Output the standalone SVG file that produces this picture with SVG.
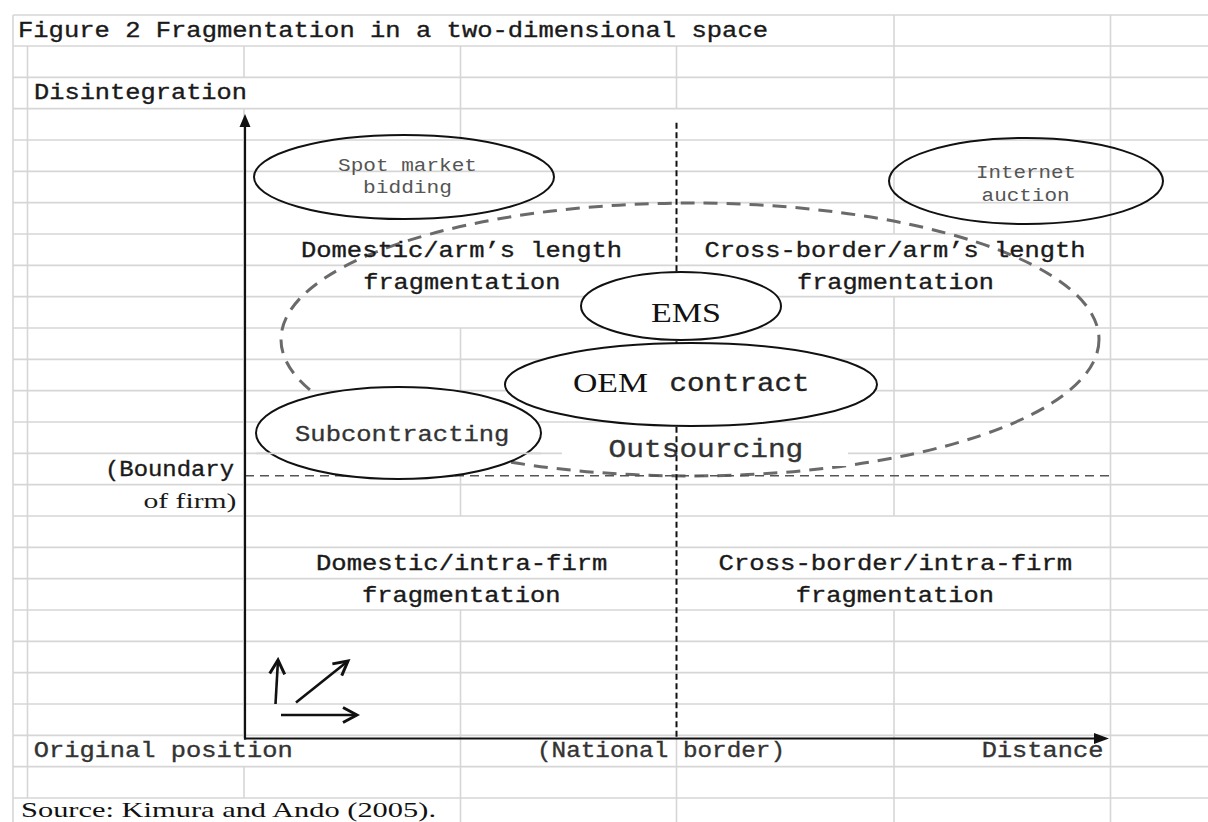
<svg xmlns="http://www.w3.org/2000/svg" width="1208" height="822" viewBox="0 0 1208 822">
  <style>
    .grid line { stroke: #d6d6d6; stroke-width: 1.6; }
    .mono { font-family: "Liberation Mono", "DejaVu Sans Mono", monospace; }
    .serif { font-family: "Liberation Serif", "Times New Roman", serif; }
    .lbl { fill: #1a1a1a; font-size: 22px; stroke: #1a1a1a; stroke-width: 0.35; }
    .soft { fill: #555555; font-size: 19px; }
    .mid { fill: #333333; stroke: #333333; }
    .node { stroke: #111111; stroke-width: 2; }
    .axis { stroke: #111111; stroke-width: 2.2; fill: none; }
    .dir { stroke: #111111; stroke-width: 2.6; }
  </style>
  <defs>
    <marker id="chev" viewBox="0 0 18 18" refX="15" refY="9" markerWidth="18" markerHeight="18" markerUnits="userSpaceOnUse" orient="auto">
      <path d="M1,1.5 L15,9 L1,16.5" fill="none" stroke="#111" stroke-width="3"/>
    </marker>
  </defs>

  <rect width="1208" height="822" fill="#ffffff"/>

  <!-- spreadsheet grid -->
  <g class="grid" id="grid">
    <line x1="13" y1="15" x2="1208" y2="15"/>
    <line x1="13" y1="46" x2="1208" y2="46"/>
    <line x1="13" y1="77.33" x2="1208" y2="77.33"/>
    <line x1="13" y1="108.67" x2="1208" y2="108.67"/>
    <line x1="13" y1="140" x2="1208" y2="140"/>
    <line x1="13" y1="171.33" x2="1208" y2="171.33"/>
    <line x1="13" y1="202.67" x2="1208" y2="202.67"/>
    <line x1="13" y1="234" x2="1208" y2="234"/>
    <line x1="13" y1="265.33" x2="1208" y2="265.33"/>
    <line x1="13" y1="296.67" x2="1208" y2="296.67"/>
    <line x1="13" y1="328" x2="1208" y2="328"/>
    <line x1="13" y1="359.33" x2="1208" y2="359.33"/>
    <line x1="13" y1="390.67" x2="1208" y2="390.67"/>
    <line x1="13" y1="422" x2="1208" y2="422"/>
    <line x1="13" y1="453.33" x2="562" y2="453.33"/>
    <line x1="848" y1="453.33" x2="1208" y2="453.33"/>
    <line x1="13" y1="484.67" x2="1208" y2="484.67"/>
    <line x1="13" y1="516" x2="1208" y2="516"/>
    <line x1="13" y1="547.33" x2="1208" y2="547.33"/>
    <line x1="13" y1="578.67" x2="1208" y2="578.67"/>
    <line x1="13" y1="610" x2="1208" y2="610"/>
    <line x1="13" y1="641.33" x2="1208" y2="641.33"/>
    <line x1="13" y1="672.67" x2="1208" y2="672.67"/>
    <line x1="13" y1="704" x2="1208" y2="704"/>
    <line x1="13" y1="735.33" x2="1208" y2="735.33"/>
    <line x1="13" y1="766.67" x2="1208" y2="766.67"/>
    <line x1="13" y1="798" x2="1208" y2="798"/>

    <line x1="13" y1="15" x2="13" y2="822"/>
    <line x1="27.5" y1="46" x2="27.5" y2="798"/>
    <line x1="244" y1="46" x2="244" y2="77.33"/>
    <line x1="244" y1="108.67" x2="244" y2="738"/>
    <line x1="244" y1="766.67" x2="244" y2="798"/>
    <line x1="460.5" y1="46" x2="460.5" y2="140"/>
    <line x1="460.5" y1="328" x2="460.5" y2="516"/>
    <line x1="460.5" y1="610" x2="460.5" y2="822"/>
    <line x1="676.5" y1="46" x2="676.5" y2="108.67"/>
    <line x1="676.5" y1="738" x2="676.5" y2="822"/>
    <line x1="894" y1="15" x2="894" y2="234"/>
    <line x1="894" y1="296.67" x2="894" y2="516"/>
    <line x1="894" y1="610" x2="894" y2="822"/>
    <line x1="1110.5" y1="15" x2="1110.5" y2="822"/>
  </g>

  <!-- outsourcing region (dashed) -->
  <g id="outsourcing-region">
    <ellipse cx="690" cy="339.5" rx="409" ry="136.5" fill="none" stroke="#6a6a6a" stroke-width="3" stroke-dasharray="14 9"/>
  </g>

  <g id="outsourcing">
    <rect x="562" y="436" width="286" height="30" fill="#ffffff"/>
    <text class="mono mid" x="608.6" y="457.3" font-size="26" stroke-width="0.35" textLength="194.7" lengthAdjust="spacingAndGlyphs">Outsourcing</text>
  </g>

  <!-- reference lines -->
  <g id="reference-lines">
    <line id="national-border" x1="676.5" y1="122.7" x2="676.5" y2="738" stroke="#111" stroke-width="2" stroke-dasharray="6 3.5"/>
    <line id="firm-boundary" x1="245" y1="475.7" x2="1110" y2="475.7" stroke="#555" stroke-width="1.5" stroke-dasharray="9 6"/>
  </g>

  <!-- nodes -->
  <g id="spot-market">
    <ellipse class="node" cx="404" cy="177" rx="150" ry="42" fill="none"/>
    <text class="mono soft" x="338" y="171" textLength="139" lengthAdjust="spacingAndGlyphs">Spot market</text>
    <text class="mono soft" x="363" y="193" textLength="89" lengthAdjust="spacingAndGlyphs">bidding</text>
  </g>
  <g id="internet-auction">
    <ellipse class="node" cx="1026" cy="181" rx="137" ry="43" fill="none"/>
    <text class="mono soft" x="976" y="177.7" textLength="100" lengthAdjust="spacingAndGlyphs">Internet</text>
    <text class="mono soft" x="981.6" y="200.7" textLength="88" lengthAdjust="spacingAndGlyphs">auction</text>
  </g>
  <g id="ems">
    <ellipse class="node" cx="681" cy="306" rx="100" ry="34" fill="#ffffff"/>
    <text class="serif" x="651" y="321.5" font-size="27" fill="#111" textLength="70" lengthAdjust="spacingAndGlyphs">EMS</text>
  </g>
  <g id="oem-contract">
    <ellipse class="node" cx="691" cy="384.5" rx="186" ry="41.5" fill="#ffffff"/>
    <text class="serif" x="573" y="391.7" font-size="27" fill="#111" textLength="75" lengthAdjust="spacingAndGlyphs">OEM</text>
    <text class="mono" x="669.5" y="391" font-size="25" fill="#222" stroke="#222" stroke-width="0.35" textLength="140" lengthAdjust="spacingAndGlyphs">contract</text>
  </g>
  <g id="subcontracting">
    <ellipse class="node" cx="398.5" cy="433" rx="142.5" ry="46" fill="#ffffff"/>
    <line x1="256" y1="453.33" x2="541" y2="453.33" stroke="#d6d6d6" stroke-width="1.6"/>
    <text class="mono mid" x="295" y="440.7" font-size="22" stroke-width="0.3" textLength="214.4" lengthAdjust="spacingAndGlyphs">Subcontracting</text>
  </g>

  <!-- quadrant labels -->
  <g id="quadrant-labels" class="mono lbl">
    <text x="301" y="256.7" textLength="321" lengthAdjust="spacingAndGlyphs">Domestic/arm’s length</text>
    <text x="363.3" y="289.3" textLength="197" lengthAdjust="spacingAndGlyphs">fragmentation</text>
    <text x="704.4" y="256.7" textLength="381" lengthAdjust="spacingAndGlyphs">Cross-border/arm’s length</text>
    <text x="797" y="289.3" textLength="197" lengthAdjust="spacingAndGlyphs">fragmentation</text>
    <text x="316" y="570" textLength="291.4" lengthAdjust="spacingAndGlyphs">Domestic/intra-firm</text>
    <text x="362" y="601.7" textLength="198.6" lengthAdjust="spacingAndGlyphs">fragmentation</text>
    <text x="718.5" y="570" textLength="353.7" lengthAdjust="spacingAndGlyphs">Cross-border/intra-firm</text>
    <text x="795.8" y="601.7" textLength="198.2" lengthAdjust="spacingAndGlyphs">fragmentation</text>
  </g>

  <!-- titles and axis labels -->
  <g id="labels">
    <text class="mono lbl" x="18" y="36.5" textLength="750" lengthAdjust="spacingAndGlyphs">Figure 2 Fragmentation in a two-dimensional space</text>
    <text class="mono lbl" x="34" y="99" textLength="213" lengthAdjust="spacingAndGlyphs">Disintegration</text>
    <text class="mono lbl" x="105" y="475.7" font-size="21" textLength="129" lengthAdjust="spacingAndGlyphs">(Boundary</text>
    <text class="serif" x="143.5" y="508" font-size="21" fill="#1a1a1a" textLength="93" lengthAdjust="spacingAndGlyphs">of firm)</text>
    <text class="mono lbl mid" x="33.7" y="756.7" textLength="259" lengthAdjust="spacingAndGlyphs">Original position</text>
    <text class="mono lbl mid" x="537" y="756.7" textLength="248" lengthAdjust="spacingAndGlyphs">(National border)</text>
    <text class="mono lbl mid" x="981.7" y="756.7" textLength="121.7" lengthAdjust="spacingAndGlyphs">Distance</text>
    <text class="serif" x="21" y="817" font-size="22" fill="#111" textLength="415" lengthAdjust="spacingAndGlyphs">Source: Kimura and Ando (2005).</text>
  </g>

  <!-- axes and direction arrows -->
  <g id="connectors">
    <line class="axis" x1="245" y1="739.5" x2="245" y2="125"/>
    <polygon points="245,114 239.5,127 250.5,127" fill="#111"/>
    <line class="axis" x1="244" y1="738.5" x2="1095" y2="738.5"/>
    <polygon points="1109,738.5 1094,733 1094,744" fill="#111"/>
    <line class="dir" x1="275.5" y1="704" x2="278" y2="660" marker-end="url(#chev)"/>
    <line class="dir" x1="296" y1="702.5" x2="348" y2="661" stroke-width="2.2" marker-end="url(#chev)"/>
    <line class="dir" x1="281" y1="715" x2="357" y2="715" marker-end="url(#chev)"/>
  </g>
</svg>
